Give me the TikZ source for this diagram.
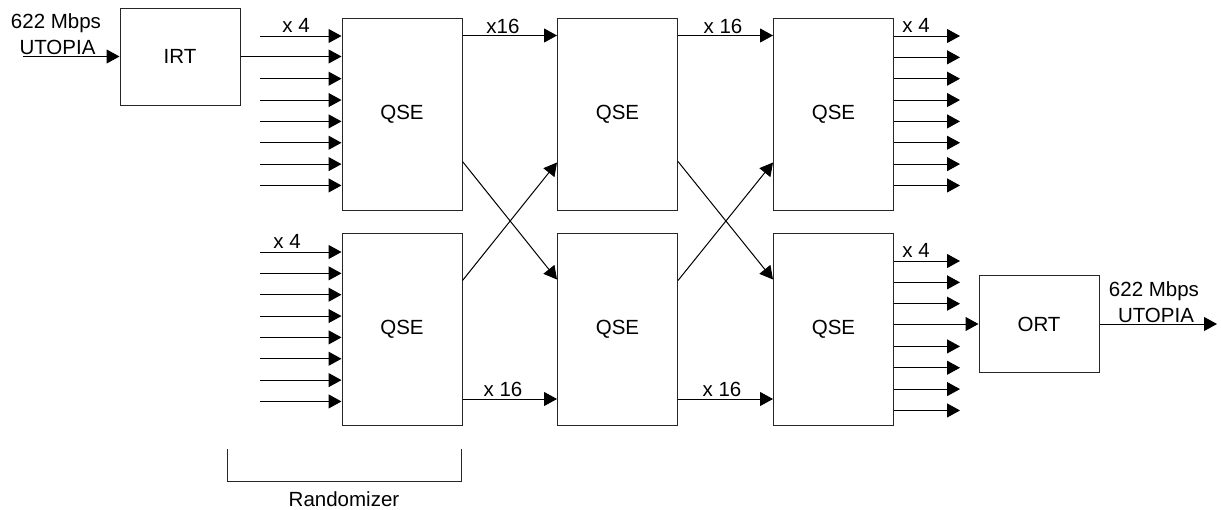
\documentclass[tikz,border=0pt]{standalone}
\usepackage{fontspec}
\setmainfont{Liberation Sans}
\usetikzlibrary{arrows.meta}
\tikzset{>={Triangle[length=13pt,width=14pt]}}
\tikzset{
  every node/.style={font=\fontsize{20.5}{24}\selectfont},
  blk/.style={draw=black!85,line width=1pt,inner sep=0pt,minimum width=120pt,minimum height=192pt},
  rt/.style={blk,minimum height=97pt},
  lbl/.style={anchor=base,inner sep=0pt},
  arr/.style={->,line width=1pt},
}

\begin{document}
\begin{tikzpicture}[x=1pt,y=-1pt]
  \useasboundingbox (0,0) rectangle (1221,509);
  \pgfmathsetmacro{\pitch}{21.35};
  % boxes
  \node[rt]  (irt) at (180,56.5)    {IRT};
  \node[blk] (q11) at (402,114)     {QSE};
  \node[blk] (q21) at (402,329.5)   {QSE};
  \node[blk] (q12) at (617.5,114)   {QSE};
  \node[blk] (q22) at (617.5,329.5) {QSE};
  \node[blk] (q13) at (833.5,114)   {QSE};
  \node[blk] (q23) at (833.5,329.5) {QSE};
  \node[rt]  (ort) at (1039,324)    {ORT};
  % IRT in
  \coordinate (utopiain) at (23,56.5);
  \draw[arr] (utopiain) -- (irt.west);
  \node[lbl] (rate1) at (56,28.5) {622 Mbps};
  \node[lbl] (utopia1) at (57.5,54.5) {UTOPIA};
  \draw[arr] (irt.east) -- (irt.east -| q11.west);
  % inputs, top
  \foreach \k in {0,2,3,4,5,6,7} {
    \pgfmathsetmacro{\y}{36+\pitch*\k};
    \coordinate (in1\k) at (260,\y);
    \draw[arr] (in1\k) -- (in1\k -| q11.west);
  }
  \node[lbl] (n11) at (296,32) {x 4};
  % inputs, bottom
  \foreach \k in {0,...,7} {
    \pgfmathsetmacro{\y}{252+\pitch*\k};
    \coordinate (in2\k) at (260,\y);
    \draw[arr] (in2\k) -- (in2\k -| q21.west);
  }
  \node[lbl] (n21) at (287,248) {x 4};
  % straight links
  \draw[arr] ([yshift=-18pt]q11.north east) -- ([yshift=-18pt]q12.north west);
  \draw[arr] ([yshift=-18pt]q12.north east) -- ([yshift=-18pt]q13.north west);
  \draw[arr] ([yshift=27pt]q21.south east) -- ([yshift=27pt]q22.south west);
  \draw[arr] ([yshift=27pt]q22.south east) -- ([yshift=27pt]q23.south west);
  \node[lbl] (n12) at (503,33)  {x16};
  \node[lbl] (n13) at (723,33)  {x 16};
  \node[lbl] (n22) at (503,396) {x 16};
  \node[lbl] (n23) at (722,396) {x 16};
  % crossed links
  \draw[arr] ([yshift=-144pt]q11.north east) -- ([yshift=-46.5pt]q22.north west);
  \draw[arr] ([yshift=-47.5pt]q21.north east) -- ([yshift=-145pt]q12.north west);
  \draw[arr] ([yshift=-144pt]q12.north east) -- ([yshift=-46.5pt]q23.north west);
  \draw[arr] ([yshift=-47.5pt]q22.north east) -- ([yshift=-145pt]q13.north west);
  % outputs, top
  \foreach \k in {0,...,7} {
    \pgfmathsetmacro{\y}{36+\pitch*\k};
    \coordinate (out1\k) at (960,\y);
    \draw[arr] (out1\k -| q13.east) -- (out1\k);
  }
  \node[lbl] (n14) at (916,32) {x 4};
  % outputs, bottom
  \foreach \k in {0,1,2,4,5,6,7} {
    \pgfmathsetmacro{\y}{261+\pitch*\k};
    \coordinate (out2\k) at (960,\y);
    \draw[arr] (out2\k -| q23.east) -- (out2\k);
  }
  \node[lbl] (n24) at (916,257) {x 4};
  \draw[arr] (q23.east |- ort.west) -- (ort.west);
  % ORT out
  \coordinate (utopiaout) at (1217,324);
  \draw[arr] (ort.east) -- (utopiaout);
  \node[lbl] (rate2) at (1154,296) {622 Mbps};
  \node[lbl] (utopia2) at (1156,322) {UTOPIA};
  % randomizer
  \draw[line width=1pt,black!85] (227,449) |- (461,481) -- (461,449);
  \node[lbl] (rnd) at (344,506) {Randomizer};
\end{tikzpicture}
\end{document}
